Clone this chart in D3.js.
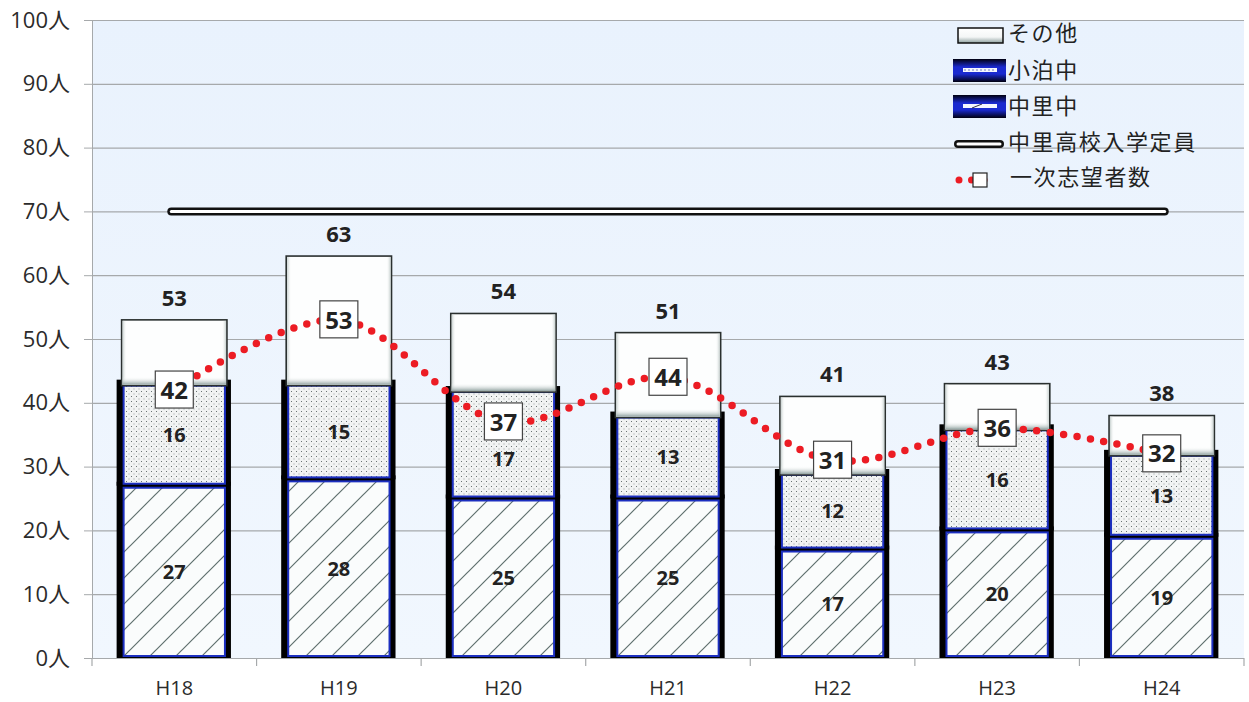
<!DOCTYPE html>
<html>
<head>
<meta charset="utf-8">
<script src="https://cdn.jsdelivr.net/npm/d3@7"></script>
<style>
  body { margin: 0; background: #fff; }
  svg { display: block; font-family: "Noto Sans CJK JP", "Noto Sans", sans-serif; }
</style>
</head>
<body>
<div id="chart"></div>
<script>
// data
const categories = ['H18', 'H19', 'H20', 'H21', 'H22', 'H23', 'H24'];
const nakasato = [27, 28, 25, 25, 17, 20, 19];   // 中里中
const kodomari = [16, 15, 17, 13, 12, 16, 13];   // 小泊中
const others = [10, 20, 12, 13, 12, 7, 6];       // その他
const firstChoice = [42, 53, 37, 44, 31, 36, 32]; // 一次志望者数
const capacity = 70;                              // 中里高校入学定員
const yTicks = [0, 10, 20, 30, 40, 50, 60, 70, 80, 90, 100];

const width = 1249, height = 702;
const plotLeft = 92, plotRight = 1244, plotTop = 20, plotBottom = 658;
const numFont = '"Open Sans", "Noto Sans CJK JP", sans-serif';

const svg = d3.select('#chart').append('svg')
  .attr('width', width)
  .attr('height', height);

const defs = svg.append('defs');

// background gradient
const bg = defs.append('linearGradient').attr('id', 'bg').attr('x1', 0).attr('y1', 0).attr('x2', 0).attr('y2', 1);
bg.append('stop').attr('offset', '0%').attr('stop-color', '#e9f2fd');
bg.append('stop').attr('offset', '100%').attr('stop-color', '#f1f7fe');

// その他 bottom bevel
const bev = defs.append('linearGradient').attr('id', 'bevel').attr('x1', 0).attr('y1', 0).attr('x2', 0).attr('y2', 1);
bev.append('stop').attr('offset', '0%').attr('stop-color', '#ffffff').attr('stop-opacity', 0);
bev.append('stop').attr('offset', '100%').attr('stop-color', '#8fa19f').attr('stop-opacity', 1);

const wgH = defs.append('linearGradient').attr('id', 'whiteH').attr('x1', 0).attr('y1', 0).attr('x2', 1).attr('y2', 0);
wgH.append('stop').attr('offset', '0%').attr('stop-color', '#b8c4c2').attr('stop-opacity', 0.8);
wgH.append('stop').attr('offset', '4%').attr('stop-color', '#ffffff').attr('stop-opacity', 0);
wgH.append('stop').attr('offset', '96%').attr('stop-color', '#ffffff').attr('stop-opacity', 0);
wgH.append('stop').attr('offset', '100%').attr('stop-color', '#b8c4c2').attr('stop-opacity', 0.8);

const legWhite = defs.append('linearGradient').attr('id', 'legWhite').attr('x1', 0).attr('y1', 0).attr('x2', 0).attr('y2', 1);
legWhite.append('stop').attr('offset', '0%').attr('stop-color', '#ffffff');
legWhite.append('stop').attr('offset', '60%').attr('stop-color', '#f4f6f6');
legWhite.append('stop').attr('offset', '100%').attr('stop-color', '#8fa19f');

// 中里中 hatch
const hatch = defs.append('pattern').attr('id', 'hatch')
  .attr('patternUnits', 'userSpaceOnUse').attr('width', 26).attr('height', 26);
hatch.append('rect').attr('width', 26).attr('height', 26).attr('fill', '#fafcfc');
hatch.append('path').attr('d', 'M-2,28 L28,-2 M-15,15 L15,-15 M11,41 L41,11')
  .attr('stroke', '#5f706e').attr('stroke-width', 1.2);

// 小泊中 dots
const dots = defs.append('pattern').attr('id', 'dots')
  .attr('patternUnits', 'userSpaceOnUse').attr('width', 5).attr('height', 5);
dots.append('rect').attr('width', 5).attr('height', 5).attr('fill', '#f1f3f3');
dots.append('rect').attr('x', 1).attr('y', 1).attr('width', 1).attr('height', 1).attr('fill', '#6a7474');
dots.append('rect').attr('x', 3.5).attr('y', 3.5).attr('width', 1).attr('height', 1).attr('fill', '#9aa2a2');

// legend swatch fill
const lg = defs.append('linearGradient').attr('id', 'legBlue').attr('x1', 0).attr('y1', 0).attr('x2', 0).attr('y2', 1);
lg.append('stop').attr('offset', '0%').attr('stop-color', '#000010');
lg.append('stop').attr('offset', '35%').attr('stop-color', '#1a2ad0');
lg.append('stop').attr('offset', '65%').attr('stop-color', '#1a2ad0');
lg.append('stop').attr('offset', '100%').attr('stop-color', '#000010');

// scales
const x = d3.scaleBand().domain(categories).range([plotLeft, plotRight]).paddingInner(0.36).paddingOuter(0.18);
const y = d3.scaleLinear().domain([0, 100]).range([plotBottom, plotTop]);
const cx = c => x(c) + x.bandwidth() / 2;

// plot background
svg.append('rect').attr('x', plotLeft).attr('y', plotTop)
  .attr('width', plotRight - plotLeft).attr('height', plotBottom - plotTop).attr('fill', 'url(#bg)');

// grid
svg.append('g').selectAll('line').data(yTicks).join('line')
  .attr('x1', plotLeft).attr('x2', plotRight)
  .attr('y1', d => y(d) + 0.5).attr('y2', d => y(d) + 0.5)
  .attr('stroke', '#a6a9ab').attr('stroke-width', 1.2);

// y axis
const yAxis = svg.append('g').attr('transform', `translate(${plotLeft},0)`)
  .call(d3.axisLeft(y).tickValues(yTicks).tickFormat(d => d + '人').tickSize(8).tickPadding(14));
yAxis.select('.domain').attr('stroke', '#a6a9ab');
yAxis.selectAll('.tick line').attr('stroke', '#a6a9ab');
yAxis.selectAll('text').attr('font-size', 22).attr('fill', '#2b2b2b').attr('font-family', numFont);

// x axis
const xAxis = svg.append('g').attr('transform', `translate(0,${plotBottom})`)
  .call(d3.axisBottom(x).tickSize(0).tickPadding(23));
xAxis.select('.domain').remove();
xAxis.selectAll('text').attr('font-size', 20).attr('fill', '#2b2b2b').attr('font-family', numFont);
svg.append('line').attr('x1', plotLeft - 8).attr('x2', plotRight).attr('y1', plotBottom + 0.5).attr('y2', plotBottom + 0.5)
  .attr('stroke', '#a6a9ab').attr('stroke-width', 1.2);
svg.append('g').selectAll('line').data(d3.range(categories.length + 1)).join('line')
  .attr('x1', i => plotLeft + i * x.step()).attr('x2', i => plotLeft + i * x.step())
  .attr('y1', plotBottom).attr('y2', plotBottom + 8)
  .attr('stroke', '#a6a9ab').attr('stroke-width', 1.2);

// stacked segments
const rows = categories.map((c, i) => ({
  c,
  naka: nakasato[i],
  kodo: kodomari[i],
  other: others[i],
  total: nakasato[i] + kodomari[i] + others[i],
  first: firstChoice[i]
}));

const bars = svg.append('g');
const bw = x.bandwidth();

function lowerSegment(g, d, v0, v1, fill) {
  const yTop = y(v1), yBot = y(v0);
  g.append('rect')
    .attr('x', x(d.c) - 5).attr('y', yTop - 4)
    .attr('width', bw + 9).attr('height', yBot - yTop + 4)
    .attr('fill', '#000');
  g.append('rect')
    .attr('x', x(d.c) + 2).attr('y', yTop + 2)
    .attr('width', bw - 4).attr('height', Math.max(0, yBot - yTop - 4))
    .attr('fill', fill).attr('stroke', '#1c2fc0').attr('stroke-width', 2);
}

rows.forEach(d => {
  const g = bars.append('g');
  lowerSegment(g, d, 0, d.naka, 'url(#hatch)');
  lowerSegment(g, d, d.naka, d.naka + d.kodo, 'url(#dots)');
  const base = d.naka + d.kodo;
  const h = y(base) - y(d.total) + 2;
  g.append('rect')
    .attr('x', x(d.c)).attr('y', y(d.total))
    .attr('width', bw).attr('height', h)
    .attr('fill', '#fdfefe').attr('stroke', '#2a302f').attr('stroke-width', 1.6);
  g.append('rect')
    .attr('x', x(d.c) + 1).attr('y', y(d.total) + 1)
    .attr('width', bw - 2).attr('height', h - 2)
    .attr('fill', 'url(#whiteH)');
  g.append('rect')
    .attr('x', x(d.c) + 1).attr('y', y(d.total) + h - 9)
    .attr('width', bw - 2).attr('height', 8)
    .attr('fill', 'url(#bevel)');
});

// segment labels
const lbl = svg.append('g').attr('font-weight', 'bold').attr('fill', '#222')
  .attr('text-anchor', 'middle').attr('font-family', numFont);
rows.forEach(d => {
  lbl.append('text').attr('x', cx(d.c)).attr('y', y(d.naka / 2)).attr('dy', '0.36em')
    .attr('font-size', 20).text(d.naka);
  let ky = y(d.naka + d.kodo / 2);
  const by = y(d.first);
  if (Math.abs(ky - by) < 30) ky = by + 37; // keep clear of the marker box
  lbl.append('text').attr('x', cx(d.c)).attr('y', ky).attr('dy', '0.36em')
    .attr('font-size', 20).text(d.kodo);
  lbl.append('text').attr('x', cx(d.c)).attr('y', y(d.total) - 22).attr('dy', '0.36em')
    .attr('font-size', 22).text(d.total);
});

// capacity line
const capLine = svg.append('g');
const capPts = [[cx(categories[0]) - 3, y(capacity)], [cx(categories[categories.length - 1]) + 3, y(capacity)]];
capLine.append('path').attr('d', d3.line()(capPts))
  .attr('stroke', '#111').attr('stroke-width', 8).attr('stroke-linecap', 'round').attr('fill', 'none');
capLine.append('path').attr('d', d3.line()(capPts))
  .attr('stroke', '#fff').attr('stroke-width', 3).attr('stroke-linecap', 'round').attr('fill', 'none');

// first choice line
const line = d3.line()
  .x(d => cx(d.c))
  .y(d => y(d.first))
  .curve(d3.curveCatmullRom.alpha(0.5));
svg.append('path').datum(rows).attr('d', line)
  .attr('fill', 'none').attr('stroke', '#ec1c24').attr('stroke-width', 7.5)
  .attr('stroke-linecap', 'round').attr('stroke-dasharray', '0 13.5');

const boxes = svg.append('g');
rows.forEach(d => {
  boxes.append('rect').attr('x', cx(d.c) - 19).attr('y', y(d.first) - 19)
    .attr('width', 38).attr('height', 37)
    .attr('fill', '#fff').attr('stroke', '#444').attr('stroke-width', 1.2);
  boxes.append('text').attr('x', cx(d.c)).attr('y', y(d.first)).attr('dy', '0.36em')
    .attr('text-anchor', 'middle').attr('font-weight', 'bold').attr('font-size', 24)
    .attr('font-family', numFont).attr('fill', '#222')
    .text(d.first);
});

// legend
const legend = svg.append('g').attr('font-size', 22).attr('fill', '#222').attr('letter-spacing', 1.6);
const lx = 1008;
const legendY = [33, 70, 106, 142, 177];

// その他
legend.append('rect').attr('x', 958).attr('y', 28).attr('width', 45).attr('height', 15)
  .attr('fill', 'url(#legWhite)').attr('stroke', '#111').attr('stroke-width', 1.5);
// 小泊中
legend.append('rect').attr('x', 953).attr('y', 59).attr('width', 53).attr('height', 23).attr('fill', 'url(#legBlue)');
legend.append('rect').attr('x', 963).attr('y', 68).attr('width', 34).attr('height', 4).attr('fill', '#f4f6ff');
legend.append('line').attr('x1', 964).attr('x2', 996).attr('y1', 70).attr('y2', 70)
  .attr('stroke', '#7080c0').attr('stroke-width', 1).attr('stroke-dasharray', '2 2');
// 中里中
legend.append('rect').attr('x', 953).attr('y', 95).attr('width', 53).attr('height', 23).attr('fill', 'url(#legBlue)');
legend.append('rect').attr('x', 963).attr('y', 104).attr('width', 34).attr('height', 4).attr('fill', '#f4f6ff');
legend.append('line').attr('x1', 972).attr('x2', 982).attr('y1', 108).attr('y2', 104)
  .attr('stroke', '#334').attr('stroke-width', 1);
// 定員
legend.append('line').attr('x1', 958).attr('x2', 1000).attr('y1', 144).attr('y2', 144)
  .attr('stroke', '#111').attr('stroke-width', 8).attr('stroke-linecap', 'round');
legend.append('line').attr('x1', 958).attr('x2', 1000).attr('y1', 144).attr('y2', 144)
  .attr('stroke', '#fff').attr('stroke-width', 3).attr('stroke-linecap', 'round');
// 一次志望者数
legend.append('line').attr('x1', 959).attr('x2', 993).attr('y1', 180).attr('y2', 180)
  .attr('stroke', '#ec1c24').attr('stroke-width', 7).attr('stroke-linecap', 'round').attr('stroke-dasharray', '0 12.5');
legend.append('rect').attr('x', 973).attr('y', 173).attr('width', 14).attr('height', 14)
  .attr('fill', '#fff').attr('stroke', '#222').attr('stroke-width', 1.2);

const legendLabels = ['その他', '小泊中', '中里中', '中里高校入学定員', '一次志望者数'];
legend.selectAll('text.lab').data(legendLabels).join('text')
  .attr('class', 'lab')
  .attr('x', (d, i) => i === 4 ? lx + 2 : lx)
  .attr('y', (d, i) => legendY[i])
  .attr('dy', '0.36em')
  .text(d => d);
</script>
</body>
</html>
